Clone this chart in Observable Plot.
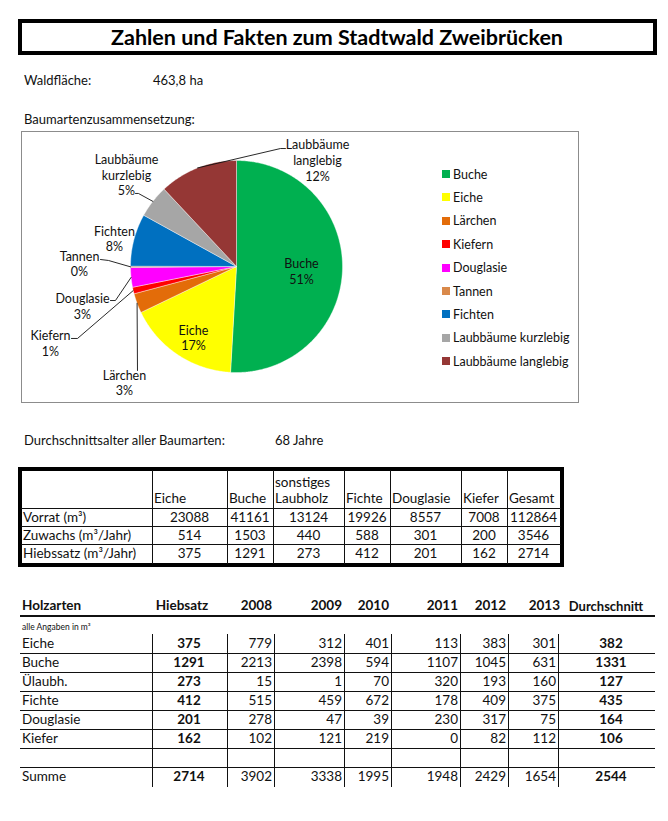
<!DOCTYPE html>
<html><head><meta charset="utf-8">
<script src="https://cdn.jsdelivr.net/npm/d3@7"></script>
<script src="https://cdn.jsdelivr.net/npm/@observablehq/plot@0.6"></script>
<style>
html,body{margin:0;padding:0;background:#fff;}
body{width:668px;height:821px;position:relative;overflow:hidden;font-family:Lato,"Noto Sans",sans-serif;color:#111;}
.t{position:absolute;white-space:nowrap;}
.ln{position:absolute;background:#111;}
</style></head><body>
<script>
// ---------- DATA ----------
const title = "Zahlen und Fakten zum Stadtwald Zweibrücken";
const waldLabel = "Waldfläche:";
const waldValue = "463,8 ha";
const compLabel = "Baumartenzusammensetzung:";
const ageLabel = "Durchschnittsalter aller Baumarten:";
const ageValue = "68 Jahre";

const species = ["Buche","Eiche","Lärchen","Kiefern","Douglasie","Tannen","Fichten","Laubbäume kurzlebig","Laubbäume langlebig"];
const shares  = [51, 17, 3, 1, 3, 0.2, 8, 5, 12];

const t1Columns = ["Eiche","Buche","sonstiges\nLaubholz","Fichte","Douglasie","Kiefer","Gesamt"];
const t1Rows = ["Vorrat (m³)","Zuwachs (m³/Jahr)","Hiebssatz (m³/Jahr)"];
const vorrat    = [23088,41161,13124,19926,8557,7008,112864];
const zuwachs   = [514,1503,440,588,301,200,3546];
const hiebssatz = [375,1291,273,412,201,162,2714];

const t2Header = ["Holzarten","Hiebsatz","2008","2009","2010","2011","2012","2013","Durchschnitt"];
const t2Note = "alle Angaben in m³";
const holzarten = ["Eiche","Buche","Ülaubh.","Fichte","Douglasie","Kiefer"];
const hiebsatz  = [375,1291,273,412,201,162];
const y2008 = [779,2213,15,515,278,102];
const y2009 = [312,2398,1,459,47,121];
const y2010 = [401,594,70,672,39,219];
const y2011 = [113,1107,320,178,230,0];
const y2012 = [383,1045,193,409,317,82];
const y2013 = [301,631,160,375,75,112];
const durchschnitt = [382,1331,127,435,164,106];
const summeLabel = "Summe";
const summe = [2714,3902,3338,1995,1948,2429,1654,2544];

// ---------- STYLE / LAYOUT ----------
const speciesColors = ["#00B050","#FFFF00","#E36C09","#FF0000","#FF00FF","#D9894A","#0070C0","#A6A6A6","#953735"];
const body = document.body;
function txt(s, x, cy, o={}) {
  const fs = o.size || 13;
  const d = document.createElement("div");
  d.className = "t";
  d.textContent = s;
  d.style.fontSize = fs + "px";
  const lh = o.lh || Math.round(fs*1.2);
  d.style.lineHeight = lh + "px";
  const lines = String(s).split("\n").length;
  d.style.top = (cy - lh*lines/2) + "px";
  d.style.left = x + "px";
  if (o.bold) d.style.fontWeight = "bold";
  if (o.pre) d.style.whiteSpace = "pre";
  const a = o.align || "left";
  if (a === "center") { d.style.transform = "translateX(-50%)"; d.style.textAlign = "center"; }
  if (a === "right") { d.style.transform = "translateX(-100%)"; d.style.textAlign = "right"; }
  body.appendChild(d);
  return d;
}
function hline(x1,x2,y,w=1){const d=document.createElement("div");d.className="ln";Object.assign(d.style,{left:x1+"px",top:(y-w/2)+"px",width:(x2-x1)+"px",height:w+"px"});body.appendChild(d);}
function vline(x,y1,y2,w=1){const d=document.createElement("div");d.className="ln";Object.assign(d.style,{left:(x-w/2)+"px",top:y1+"px",width:w+"px",height:(y2-y1)+"px"});body.appendChild(d);}
function box(x,y,w,h,b,c){const d=document.createElement("div");Object.assign(d.style,{position:"absolute",left:x+"px",top:y+"px",width:w+"px",height:h+"px",border:b+"px solid "+c,boxSizing:"border-box"});body.appendChild(d);return d;}

// Title
box(18,19,639,36,4,"#000");
txt(title, 337, 37, {size:21.5, bold:true, align:"center"}).style.color="#000";

txt(waldLabel, 24, 80);
txt(waldValue, 153, 80);
txt(compLabel, 24, 119);

// ---------- PIE (Observable Plot) ----------
box(21,131,558,272,1,"#8c8c8c");
const R = 106, W = 556, H = 270, CX = 214, CY = 134;
const total = d3.sum(shares);
const arcs = d3.pie().sort(null).value(d => d)(shares);
const slicePts = [];
arcs.forEach((a, i) => {
  const name = species[i];
  const n = Math.max(2, Math.ceil((a.endAngle - a.startAngle) / 0.01));
  slicePts.push({name, x: 0, y: 0});
  for (let k = 0; k <= n; k++) {
    const t = a.startAngle + (a.endAngle - a.startAngle) * k / n;
    slicePts.push({name, x: Math.sin(t), y: Math.cos(t)});
  }
  slicePts.push({name, x: 0, y: 0});
});
// label placement (block centre, radius units) and leader elbows
const labelPlace = {
  "Buche": {x: 0.613, y: -0.042},
  "Eiche": {x: -0.406, y: -0.670},
  "Lärchen": {x: -1.057, y: -1.094, leader: [[-0.934, -0.981]]},
  "Kiefern": {x: -1.755, y: -0.722, leader: [[-1.5, -0.679], [-1.557, -0.679]]},
  "Douglasie": {x: -1.453, y: -0.373, leader: [[-1.142, -0.321], [-1.189, -0.321]]},
  "Tannen": {x: -1.481, y: 0.028, leader: [[-1.208, 0.057], [-1.283, 0.066]]},
  "Fichten": {x: -1.151, y: 0.264},
  "Laubbäume kurzlebig": {x: -1.038, y: 0.868, leader: [[-0.925, 0.689], [-0.953, 0.689]]},
  "Laubbäume langlebig": {x: 0.764, y: 1.005, leader: [[0.415, 1.113], [0.462, 1.113]]}
};
const labelData = species.map((s, i) => ({
  name: s,
  text: s.replace(" ", "\n") + "\n" + Math.round(shares[i] / total * 100) + "%",
  x: labelPlace[s].x, y: labelPlace[s].y
}));
const leaderPts = [];
species.forEach((s, i) => {
  const p = labelPlace[s];
  if (!p.leader) return;
  const mid = (arcs[i].startAngle + arcs[i].endAngle) / 2;
  leaderPts.push({name: s, x: Math.sin(mid), y: Math.cos(mid)});
  p.leader.forEach(([x, y]) => leaderPts.push({name: s, x, y}));
});
const pie = Plot.plot({
  width: W, height: H, margin: 0,
  style: {fontFamily: "Lato, sans-serif", background: "transparent", color: "#111"},
  x: {domain: [-CX / R, (W - CX) / R], axis: null},
  y: {domain: [-(H - CY) / R, CY / R], axis: null},
  color: {domain: species, range: speciesColors},
  marks: [
    Plot.line(slicePts, {x: "x", y: "y", z: "name", fill: "name", stroke: "#fff", strokeWidth: 0.4}),
    Plot.line(leaderPts, {x: "x", y: "y", z: "name", stroke: "#111", strokeWidth: 0.9}),
    Plot.text(labelData, {x: "x", y: "y", text: "text", fontSize: 12.5, lineHeight: 1.26, fill: "#111"})
  ]
});
pie.style.position = "absolute"; pie.style.left = "22px"; pie.style.top = "132px";
body.appendChild(pie);

// legend
species.forEach((s, i) => {
  const cy = 174 + i * 23.4;
  const sw = document.createElement("div");
  Object.assign(sw.style, {position: "absolute", left: "442px", top: (cy - 4) + "px", width: "8px", height: "8px", background: speciesColors[i]});
  body.appendChild(sw);
  txt(s, 453, cy, {size: 12.5});
});

// ---------- TEXT ----------
txt(ageLabel, 24, 440);
txt(ageValue, 275, 440);

// ---------- TABLE 1 ----------
const t1Edges = [19, 152, 227, 273, 344, 390, 461, 507, 560];
box(18, 467, 546, 100, 4, "#000");
for (let k = 1; k < t1Edges.length - 1; k++) vline(t1Edges[k], 470, 564, 1);
[508, 526, 544].forEach(y => hline(21, 561, y, 1));
t1Columns.forEach((c, k) => {
  const lines = c.split("\n").length;
  txt(c, t1Edges[k + 1] + 2, lines === 2 ? 489.5 : 498, {size: 13.5, pre: true, lh: 16});
});
const t1Data = [vorrat, zuwachs, hiebssatz];
t1Rows.forEach((r, j) => {
  const cy = [517, 535, 553][j];
  txt(r, 23, cy, {size: 13.5});
  t1Data[j].forEach((v, k) => txt(String(v), (t1Edges[k + 1] + t1Edges[k + 2]) / 2, cy, {size: 13.5, align: "center"}));
});

// ---------- TABLE 2 ----------
const t2Edges = [20, 152, 227, 274, 344, 391, 460, 508, 558, 655];
t2Header.forEach((h, k) => {
  if (k === 0) txt(h, 22, 605, {size: 13.5, bold: true});
  else if (k === 1) txt(h, 182, 605, {size: 13.5, bold: true, align: "center"});
  else if (k === 8) txt(h, 606, 606, {size: 13, bold: true, align: "center"});
  else txt(h, t2Edges[k + 1] - 2 + (k === 7 ? 4 : 0), 605, {size: 13.5, bold: true, align: "right"});
});
hline(20, 655, 616, 2);
txt(t2Note, 22, 627, {size: 8.5});
const rowY = [643, 662, 681, 700, 719, 738, 757, 776];
for (let j = 0; j < rowY.length - 1; j++) hline(20, 655, (rowY[j] + rowY[j + 1]) / 2 + 0.5, 1);
for (let k = 1; k < t2Edges.length - 1; k++) vline(t2Edges[k], 634, 787, 1);
const yearCols = [y2008, y2009, y2010, y2011, y2012, y2013];
holzarten.forEach((h, j) => {
  const cy = rowY[j];
  txt(h, 22, cy, {size: 13.5});
  txt(String(hiebsatz[j]), 189, cy, {size: 13.5, bold: true, align: "center"});
  yearCols.forEach((col, k) => txt(String(col[j]), t2Edges[k + 3] - 2, cy, {size: 13.5, align: "right"}));
  txt(String(durchschnitt[j]), 611, cy, {size: 13.5, bold: true, align: "center"});
});
{
  const cy = rowY[7];
  txt(summeLabel, 22, cy, {size: 13.5});
  txt(String(summe[0]), 189, cy, {size: 13.5, bold: true, align: "center"});
  for (let k = 0; k < 6; k++) txt(String(summe[k + 1]), t2Edges[k + 3] - 2, cy, {size: 13.5, align: "right"});
  txt(String(summe[7]), 611, cy, {size: 13.5, bold: true, align: "center"});
}
</script>
</body></html>
